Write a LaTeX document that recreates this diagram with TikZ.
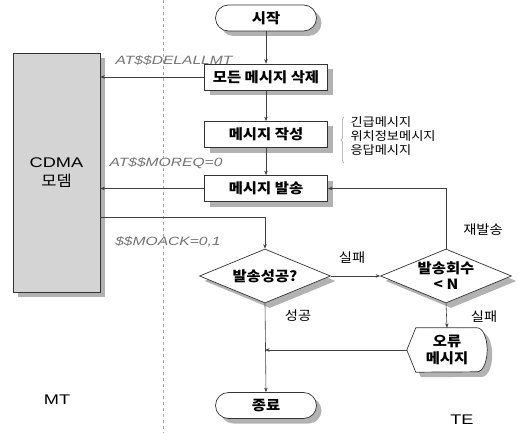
\documentclass[tikz,border=0pt]{standalone}
\usepackage{fontspec}
\setmainfont{Liberation Sans}[FakeStretch=1.3, ItalicFeatures={FakeStretch=1.3}]
\newfontfamily\kr{Noto Sans CJK KR}[FakeStretch=1.1]
\usetikzlibrary{shapes.geometric, arrows.meta, shadows, decorations.pathreplacing, backgrounds}

\begin{document}
\begin{tikzpicture}[x=1pt, y=-1pt,
    line/.style={draw=black!75, line width=0.6pt},
    arr/.style={line, -{Stealth[length=4.5pt,width=3.5pt]}},
    shade/.style={drop shadow={fill=black!30, opacity=1, shadow xshift=5pt, shadow yshift=-5pt}},
    stepbox/.style={draw=black!80, fill=white, line width=0.7pt, shade, inner sep=0,
        minimum width=123pt, minimum height=26pt, font=\kr\bfseries\fontsize{14}{16}\selectfont},
    term/.style={stepbox, rounded corners=13pt, minimum width=101pt},
    test/.style={diamond, aspect=2.4, draw=black!80, fill=white, line width=0.7pt, shade,
        inner sep=0, minimum width=131pt, minimum height=54pt, align=center,
        font=\kr\bfseries\fontsize{14}{16}\selectfont},
    lbl/.style={font=\kr\fontsize{13}{15}\selectfont},
    cmd/.style={font=\itshape\fontsize{12}{14}\selectfont, text=black!55}]
    \useasboundingbox (0,0) rectangle (519,433);

    % MT | TE
    \draw[black!35, dashed, line width=0.6pt] (163,0) -- (163,433);

    \node[draw=black!80, fill=black!17, line width=0.7pt, shade, minimum width=87pt, minimum height=239pt,
        align=center, font=\fontsize{14}{19}\selectfont] (modem) at (56.5,172.5) {CDMA\\{\kr\fontsize{15}{19}\selectfont 모뎀}};

    \node[term] (start) at (266,18) {시작};
    \node[stepbox] (delall) at (266,77) {모든 메시지 삭제};
    \node[stepbox] (write) at (266,134.5) {메시지 작성};
    \node[stepbox] (send) at (266,188.5) {메시지 발송};
    \node[test] (okq) at (265,276) {발송성공?};
    \node[test, inner ysep=-7pt] (cntq) at (446,276) {발송회수\\{<} N};
    \node[inner sep=0, minimum width=80pt, minimum height=44pt, align=center,
        font=\kr\bfseries\fontsize{14}{17}\selectfont] (err) at (447,350) {오류\\메시지};
    \node[term] (end) at (266,405.5) {종료};

    \begin{scope}[on background layer]
        \draw[draw=black!80, fill=white, line width=0.7pt, shade] (err.west) -- ([xshift=9pt]err.north west)
            -- ([xshift=-10pt]err.north east) arc[start angle=90, end angle=-90, x radius=10pt, y radius=22pt]
            -- ([xshift=9pt]err.south west) -- cycle;
    \end{scope}

    % flow
    \draw[arr] (start) -- (delall);
    \draw[arr] (delall) -- (write);
    \draw[arr] (write) -- (send);
    \draw[arr] (okq.east) -- (cntq.west);
    \draw[arr] (cntq.north) |- (send.east);
    \draw[arr] (cntq.south) -- (err.north);
    \draw[arr] (err.west) -- (err.west -| okq.south);
    \draw[arr] (okq.south) -- (end.north);

    % modem commands
    \draw[arr] (delall.west) -- (delall.west -| modem.east);
    \draw[arr] (send.west) -- (send.west -| modem.east);
    \draw[arr] ([yshift=-44.5pt]modem.east) -| (okq.north);
    \node[cmd] (c1) at (174,60) {AT\$\$DELALLMT};
    \node[cmd] (c2) at (166,163) {AT\$\$MOREQ=0};
    \node[cmd] (c3) at (168,242) {\$\$MOACK=0,1};

    \node[lbl] (fail1) at (352,258) {실패};
    \node[lbl] (resend) at (483,230) {재발송};
    \node[lbl] (ok) at (298,316) {성공};
    \node[lbl] (fail2) at (484,317) {실패};

    \draw[black!40, line width=0.5pt, decorate, decoration={brace, amplitude=3pt}] (344,163) -- (344,117);
    \node[anchor=west, align=left, font=\kr\fontsize{12}{14}\selectfont] (kinds) at (347,136.5)
        {긴급메시지\\위치정보메시지\\응답메시지};

    \node[font=\fontsize{14}{16}\selectfont] (mt) at (57,400) {MT};
    \node[font=\fontsize{14}{16}\selectfont] (te) at (462,420) {TE};
\end{tikzpicture}
\end{document}
